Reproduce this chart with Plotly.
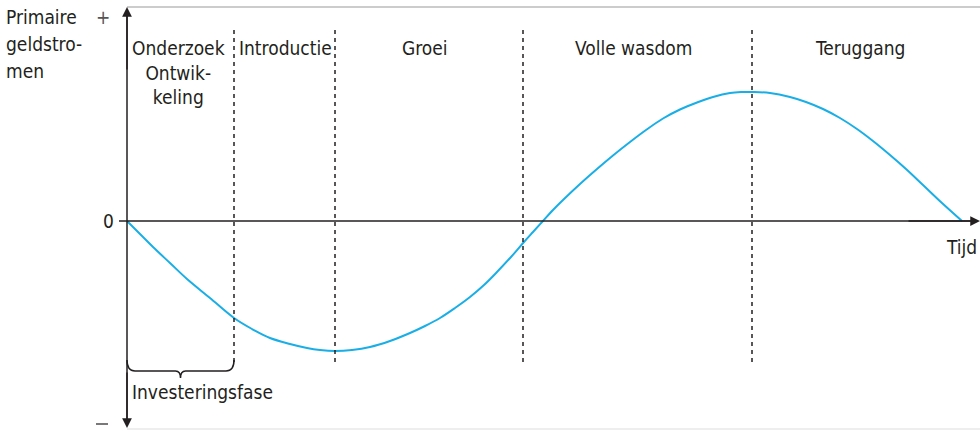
import plotly.graph_objects as go

# Time (horizontal units) and primary cash flows
tijd = [0, 13, 26, 43, 60, 83, 107, 125, 143, 163, 180, 193, 208, 225, 243, 263,
        283, 298, 313, 328, 343, 357, 370, 384, 397, 406, 416, 426, 436, 453, 470,
        486, 503, 519, 536, 553, 570, 586, 603, 614, 625, 643, 663, 679, 696, 713,
        730, 746, 763, 779, 796, 815, 835]
geldstromen = [0, -13, -26, -42, -58, -77, -97, -108, -117, -123, -127, -129, -130,
               -129, -126, -120, -112, -105, -97, -87, -76, -64, -51, -36, -21, -11,
               0, 11, 21, 37, 52, 65.5, 79, 91, 102.5, 111.5, 118.5, 124, 128, 129, 129, 128,
               124, 119, 112, 103, 92, 80, 66, 52, 36, 18, 0]

fase_grenzen = [107, 208, 396, 625]
fase_namen = ["Onderzoek<br>Ontwik-<br>keling", "Introductie", "Groei", "Volle wasdom", "Teruggang"]
fase_midden = [51, 158, 298, 506, 733]
y_label = ["Primaire", "geldstro-", "men"]

FONT = "DejaVu Sans Condensed, Liberation Sans Narrow, Roboto, sans-serif"
INK = "#231f20"

fig = go.Figure()
fig.add_trace(go.Scatter(x=tijd, y=geldstromen, mode="lines",
                         line=dict(color="#1aaee6", width=2, shape="spline", smoothing=1.0),
                         hoverinfo="skip", showlegend=False))

shapes = []
# frame lines (light gray)
shapes.append(dict(type="line", xref="x", yref="y", x0=0, x1=853, y0=214, y1=214,
                   line=dict(color="#9a9a9a", width=1.2)))
shapes.append(dict(type="line", xref="x", yref="y", x0=0, x1=853, y0=-208, y1=-208,
                   line=dict(color="#dddddd", width=1)))
# dashed phase boundaries
for g in fase_grenzen:
    shapes.append(dict(type="line", xref="x", yref="y", x0=g, x1=g, y0=191, y1=-143,
                       line=dict(color=INK, width=1.5, dash="4px,4px")))
# horizontal axis
shapes.append(dict(type="line", xref="x", yref="y", x0=-8, x1=845, y0=0, y1=0,
                   line=dict(color=INK, width=1.5)))
# vertical axis
shapes.append(dict(type="line", xref="x", yref="y", x0=0, x1=0, y0=-200, y1=205,
                   line=dict(color=INK, width=1.5)))
# minus tick
shapes.append(dict(type="line", xref="x", yref="y", x0=-31, x1=-19, y0=-203, y1=-203,
                   line=dict(color=INK, width=1.2)))
# curly brace under the investment phase
b0, b1 = 0, fase_grenzen[0]
bm = (b0 + b1) / 2
yb, yt, ytip = -150, -139, -157
path = (f"M {b0},{yt} Q {b0},{yb} {b0+8},{yb} L {bm-5},{yb} Q {bm},{yb} {bm},{ytip} "
        f"Q {bm},{yb} {bm+5},{yb} L {b1-8},{yb} Q {b1},{yb} {b1},{yt}")
shapes.append(dict(type="path", xref="x", yref="y", path=path,
                   line=dict(color=INK, width=1.5)))

ann = []
# arrowheads
for (x, y, ax, ay) in [(0, 214, 0, 150), (0, -207, 0, -150), (853, 0, 780, 0)]:
    ann.append(dict(x=x, y=y, ax=ax, ay=ay, xref="x", yref="y", axref="x", ayref="y",
                    text="", showarrow=True, arrowhead=2, arrowsize=1.3, arrowwidth=1.5,
                    arrowcolor=INK, standoff=0))
# phase labels
for naam, xm in zip(fase_namen, fase_midden):
    ann.append(dict(x=xm, y=186, xref="x", yref="y", text=naam, showarrow=False,
                    yanchor="top", align="center",
                    font=dict(family=FONT, size=19, color=INK)))
ann.append(dict(x=3, y=-158, xref="x", yref="y", text="Investeringsfase", showarrow=False,
                xanchor="left", yanchor="top", font=dict(family=FONT, size=19, color=INK)))
for i, t in enumerate(y_label):
    ann.append(dict(x=0.004, y=204 - 27 * i, xref="paper", yref="y", text=t, showarrow=False,
                    xanchor="left", yanchor="middle",
                    font=dict(family=FONT, size=19, color=INK)))
ann.append(dict(x=-24, y=204, xref="x", yref="y", text="+", showarrow=False,
                font=dict(family=FONT, size=19, color="#555555")))
ann.append(dict(x=-19, y=0, xref="x", yref="y", text="0", showarrow=False,
                font=dict(family=FONT, size=19, color=INK)))
ann.append(dict(x=852, y=-13, xref="x", yref="y", text="Tijd", showarrow=False,
                xanchor="right", yanchor="top", font=dict(family=FONT, size=19, color=INK)))

fig.update_layout(
    width=980, height=430, margin=dict(l=0, r=0, t=0, b=0),
    paper_bgcolor="white", plot_bgcolor="white",
    xaxis=dict(range=[-127, 853], visible=False, fixedrange=True),
    yaxis=dict(range=[-209, 221], visible=False, fixedrange=True),
    shapes=shapes, annotations=ann, showlegend=False,
)
fig.write_html("out.html", config={"displayModeBar": False},
               post_script="document.body.style.margin='0';document.body.style.overflow='hidden';")
